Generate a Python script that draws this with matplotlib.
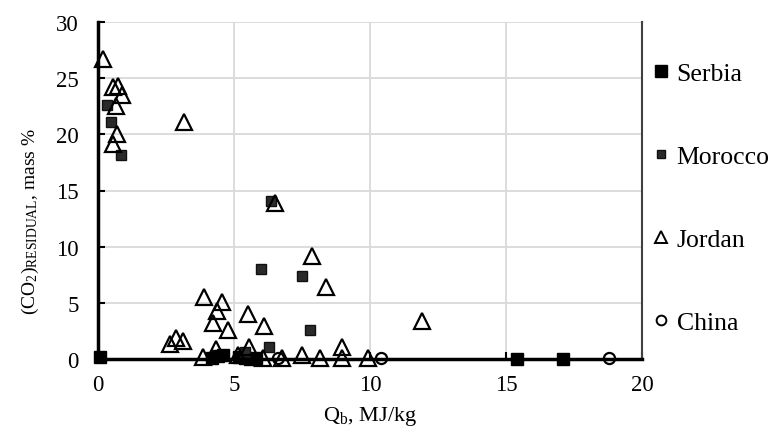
import matplotlib
matplotlib.use("Agg")
import matplotlib.pyplot as plt
from matplotlib.lines import Line2D

plt.rcParams['font.family'] = ['Liberation Serif', 'DejaVu Serif']
plt.rcParams['mathtext.fontset'] = 'custom'
plt.rcParams['mathtext.rm'] = 'Liberation Serif'
plt.rcParams['mathtext.it'] = 'Liberation Serif:italic'

# Data (Q_b in MJ/kg, residual CO2 in mass %)
serbia_x = [0.07, 4.2, 4.4, 4.6, 5.2, 5.4, 5.6, 5.8, 15.4, 17.1]
serbia_y = [0.2, 0.1, 0.3, 0.4, 0.2, 0.1, 0.0, 0.1, 0.0, 0.0]

morocco_x = [0.32, 0.47, 0.85, 6.35, 6.0, 7.5, 7.8, 6.3, 5.4]
morocco_y = [22.6, 21.1, 18.2, 14.1, 8.0, 7.4, 2.6, 1.1, 0.6]

jordan_x = [0.18, 0.55, 0.74, 0.88, 0.66, 0.70, 0.55, 3.16, 6.5, 7.87, 8.4,
            3.9, 4.55, 4.37, 4.24, 4.78, 5.5, 6.1, 2.65, 2.87, 3.12, 4.34,
            5.55, 8.97, 3.86, 5.15, 6.07, 6.76, 7.5, 8.16, 8.97, 9.93, 11.9]
jordan_y = [26.7, 24.2, 24.3, 23.5, 22.5, 20.0, 19.1, 21.1, 13.9, 9.2, 6.4,
            5.5, 5.1, 4.3, 3.2, 2.6, 4.0, 2.9, 1.3, 1.9, 1.6, 0.9,
            1.1, 1.1, 0.2, 0.4, 0.1, 0.1, 0.4, 0.1, 0.1, 0.1, 3.4]

china_x = [6.6, 10.4, 18.8]
china_y = [0.1, 0.1, 0.1]

x_ticks = [0, 5, 10, 15, 20]
y_ticks = [0, 5, 10, 15, 20, 25, 30]

fig = plt.figure(figsize=(7.71, 4.35), dpi=100)
ax = fig.add_axes([98/771, 1-360/435, (642-98)/771, (360-23)/435])

ax.set_xlim(0, 20)
ax.set_ylim(0, 30)
ax.set_xticks(x_ticks)
ax.set_yticks(y_ticks)
ax.grid(True, color='#d9d9d9', linewidth=1.3)
ax.set_axisbelow(True)

for s in ['left', 'bottom']:
    ax.spines[s].set_linewidth(2.5)
    ax.spines[s].set_color('black')
ax.spines['right'].set_linewidth(1.5)
ax.spines['right'].set_color('#404040')
ax.spines['top'].set_visible(False)

ax.tick_params(axis='both', direction='in', length=5, width=1.5, labelsize=16.5,
               colors='black')
ax.tick_params(axis='x', pad=11)
ax.tick_params(axis='y', pad=14)

ax.plot(serbia_x, serbia_y, 's', color='black', markersize=8.5, linestyle='none',
        clip_on=False, zorder=3, label='Serbia')
ax.plot(morocco_x, morocco_y, 's', markerfacecolor='#2a2a2a', markeredgecolor='#111111',
        markersize=6.5, linestyle='none', clip_on=False, zorder=3, label='Morocco')
ax.plot(jordan_x, jordan_y, '^', markerfacecolor='none', markeredgecolor='black',
        markeredgewidth=1.6, markersize=11.5, linestyle='none', clip_on=False, zorder=4,
        label='Jordan')
ax.plot(china_x, china_y, 'o', markerfacecolor='none', markeredgecolor='black',
        markeredgewidth=1.6, markersize=8, linestyle='none', clip_on=False, zorder=4,
        label='China')

handles = [
    Line2D([], [], marker='s', color='black', linestyle='none', markersize=9),
    Line2D([], [], marker='s', markerfacecolor='#2a2a2a', markeredgecolor='#111111',
           linestyle='none', markersize=5.5),
    Line2D([], [], marker='^', markerfacecolor='none', markeredgecolor='black',
           markeredgewidth=1.4, linestyle='none', markersize=9),
    Line2D([], [], marker='o', markerfacecolor='none', markeredgecolor='black',
           markeredgewidth=1.4, linestyle='none', markersize=7),
]
ax.legend(handles, ['Serbia', 'Morocco', 'Jordan', 'China'], loc='center left',
          bbox_to_anchor=(1.0, 0.478), frameon=False, fontsize=18.5,
          labelspacing=2.34, handlelength=0.7, handletextpad=0.25,
          borderaxespad=0.4, borderpad=0)

ax.set_xlabel(r'Q$_{\rm b}$, MJ/kg', fontsize=16, labelpad=6)
ax.set_ylabel(r'(CO$_{2}$)$_{\rm RESIDUAL}$, mass %', fontsize=14)
ax.yaxis.set_label_coords(-0.105, 0.41)

fig.savefig('out.png', dpi=100)
